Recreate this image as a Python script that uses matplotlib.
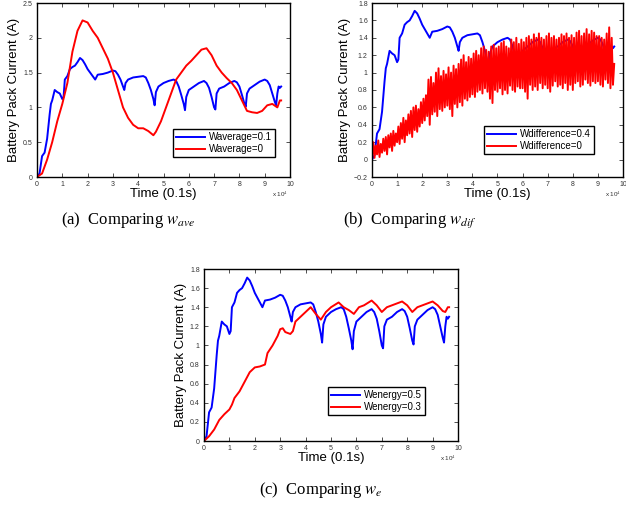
import numpy as np
import matplotlib
matplotlib.use('Agg')
import matplotlib.pyplot as plt

plt.rcParams['font.family'] = ['Liberation Sans', 'DejaVu Sans']
plt.rcParams['mathtext.fontset'] = 'stix'

# time axis in units of 10^4 x 0.1s
t_blue = [0, 0.1, 0.2, 0.3, 0.4, 0.5, 0.55, 0.6, 0.7, 0.8, 0.9, 1.0, 1.05, 1.1, 1.2, 1.3,
          1.4, 1.5, 1.6, 1.7, 1.8, 1.9, 2.0, 2.2, 2.3, 2.4, 2.6, 2.8, 3.0, 3.1, 3.2, 3.3,
          3.4, 3.45, 3.5, 3.6, 3.8, 4.0, 4.2, 4.3, 4.4, 4.5, 4.6, 4.65, 4.7, 4.8, 5.0,
          5.2, 5.4, 5.5, 5.6, 5.7, 5.8, 5.85, 5.9, 6.0, 6.2, 6.4, 6.6, 6.7, 6.8, 6.9,
          7.0, 7.05, 7.1, 7.2, 7.4, 7.6, 7.8, 7.9, 8.0, 8.1, 8.2, 8.25, 8.3, 8.4, 8.6,
          8.8, 9.0, 9.1, 9.2, 9.3, 9.4, 9.45, 9.5, 9.55, 9.6, 9.65]
blue = [0, 0.05, 0.3, 0.35, 0.55, 0.9, 1.05, 1.1, 1.25, 1.22, 1.2, 1.12, 1.15, 1.4, 1.45, 1.55,
        1.58, 1.6, 1.65, 1.71, 1.68, 1.62, 1.55, 1.45, 1.40, 1.47, 1.48, 1.50, 1.53, 1.52, 1.47, 1.40,
        1.30, 1.25, 1.35, 1.40, 1.43, 1.44, 1.45, 1.43, 1.35, 1.25, 1.12, 1.03, 1.22, 1.30, 1.35,
        1.38, 1.40, 1.38, 1.30, 1.18, 1.05, 0.96, 1.15, 1.25, 1.30, 1.35, 1.38, 1.35, 1.28, 1.15,
        1.0, 0.97, 1.20, 1.27, 1.30, 1.35, 1.38, 1.36, 1.30, 1.18, 1.05, 1.01, 1.2, 1.27, 1.32,
        1.37, 1.40, 1.38, 1.32, 1.20, 1.08, 1.03, 1.2, 1.30, 1.28, 1.30]

t_ave = [0, 0.2, 0.4, 0.6, 0.8, 1.0, 1.2, 1.4, 1.6, 1.8, 2.0, 2.2, 2.4, 2.6, 2.8, 3.0, 3.2,
         3.4, 3.6, 3.8, 4.0, 4.2, 4.4, 4.6, 4.7, 4.9, 5.1, 5.3, 5.5, 5.7, 5.9, 6.1, 6.3,
         6.5, 6.7, 6.9, 7.1, 7.3, 7.5, 7.7, 7.9, 8.1, 8.3, 8.5, 8.7, 8.9, 9.1, 9.3, 9.5,
         9.6, 9.65]
red_ave = [0, 0.05, 0.25, 0.5, 0.8, 1.05, 1.35, 1.8, 2.1, 2.25, 2.22, 2.1, 2.0, 1.85, 1.7, 1.5, 1.25,
           1.0, 0.85, 0.75, 0.70, 0.70, 0.66, 0.60, 0.65, 0.8, 1.0, 1.2, 1.4, 1.5, 1.6, 1.67, 1.75,
           1.83, 1.85, 1.75, 1.60, 1.50, 1.42, 1.35, 1.25, 1.10, 0.95, 0.93, 0.92, 0.95, 1.03, 1.05, 1.0,
           1.10, 1.10]

# noisy series sampled every 0.05 (one row per time unit)
red_dif = [0.04, 0.20, 0.02, 0.16, 0.06, 0.22, 0.03, 0.18, 0.08, 0.24, 0.10, 0.26, 0.06, 0.28, 0.14, 0.30, 0.10, 0.33, 0.16, 0.30,
           0.20, 0.38, 0.18, 0.42, 0.24, 0.48, 0.20, 0.45, 0.28, 0.52, 0.30, 0.56, 0.26, 0.60, 0.34, 0.62, 0.32, 0.58, 0.38, 0.66,
           0.42, 0.70, 0.45, 0.74, 0.50, 0.92, 0.40, 0.95, 0.52, 0.88, 0.55, 1.00, 0.50, 1.05, 0.58, 0.96, 0.56, 1.02, 0.60, 0.98,
           0.62, 1.06, 0.58, 1.00, 0.50, 1.08, 0.64, 1.04, 0.60, 1.10, 0.66, 1.15, 0.62, 1.20, 0.70, 1.12, 0.68, 1.18, 0.72, 1.16,
           0.75, 1.22, 0.72, 1.25, 0.78, 1.20, 0.80, 1.28, 0.76, 1.30, 0.82, 1.26, 0.78, 1.24, 0.70, 1.30, 0.65, 1.32, 0.80, 1.28,
           0.78, 1.30, 0.82, 1.34, 0.75, 1.36, 0.80, 1.30, 0.76, 1.28, 0.85, 1.38, 0.80, 1.35, 0.78, 1.40, 0.84, 1.33, 0.82, 1.38,
           0.82, 1.35, 0.78, 1.40, 0.70, 1.42, 0.86, 1.38, 0.80, 1.44, 0.84, 1.40, 0.80, 1.45, 0.88, 1.40, 0.82, 1.38, 0.86, 1.42,
           0.82, 1.45, 0.78, 1.40, 0.85, 1.42, 0.90, 1.38, 0.84, 1.40, 0.86, 1.44, 0.82, 1.42, 0.88, 1.45, 0.80, 1.40, 0.86, 1.43,
           0.80, 1.40, 0.88, 1.46, 0.90, 1.48, 0.84, 1.42, 0.86, 1.45, 0.92, 1.50, 0.88, 1.44, 0.85, 1.48, 0.90, 1.46, 0.88, 1.42,
           0.90, 1.42, 0.86, 1.40, 0.84, 1.38, 0.92, 1.45, 0.88, 1.52, 0.82, 1.40, 0.86, 1.10]
t_dif = [round(0.05 * i, 2) for i in range(len(red_dif))]

t_en = [0, 0.2, 0.4, 0.6, 0.8, 1.0, 1.1, 1.2, 1.4, 1.6, 1.8, 2.0, 2.2, 2.4, 2.5, 2.7, 2.9,
        3.0, 3.1, 3.2, 3.4, 3.5, 3.6, 3.8, 4.0, 4.2, 4.4, 4.6, 4.8, 5.0, 5.3, 5.5, 5.7,
        5.9, 6.1, 6.3, 6.6, 6.8, 7.0, 7.2, 7.5, 7.8, 8.0, 8.2, 8.4, 8.7, 9.0, 9.2, 9.4,
        9.5, 9.6, 9.65]
red_en = [0, 0.05, 0.12, 0.22, 0.28, 0.33, 0.38, 0.45, 0.52, 0.62, 0.72, 0.77, 0.78, 0.80, 0.92, 1.0, 1.1,
          1.17, 1.18, 1.14, 1.12, 1.15, 1.25, 1.30, 1.35, 1.40, 1.33, 1.27, 1.35, 1.40, 1.45, 1.40, 1.37,
          1.33, 1.40, 1.42, 1.47, 1.42, 1.35, 1.40, 1.43, 1.46, 1.42, 1.35, 1.40, 1.43, 1.46, 1.42, 1.36,
          1.35, 1.40, 1.40]

fig = plt.figure(figsize=(6.26, 5.08), dpi=100)

panels = [
    dict(rect=[37/626, 1-177/508, 253/626, 174/508], ylim=(0, 2.5), yticks=np.arange(0, 2.51, 0.5),
         ylab=['0', '0.5', '1', '1.5', '2', '2.5'],
         red=(t_ave, red_ave), names=('Waverage=0.1', 'Waverage=0'), leg=(0.94, 0.115),
         cap=r'(a)  Comparing $w_{ave}$', capx=128/626, capy=1-220/508, ex=0.96),
    dict(rect=[372/626, 1-177/508, 251/626, 174/508], ylim=(-0.2, 1.8), yticks=np.arange(-0.2, 1.81, 0.2),
         ylab=['\u22120.2', '0', '0.2', '0.4', '0.6', '0.8', '1', '1.2', '1.4', '1.6', '1.8'],
         red=(t_dif, red_dif), names=('Wdifference=0.4', 'Wdifference=0'), leg=(0.885, 0.132),
         cap=r'(b)  Comparing $w_{dif}$', capx=410/626, capy=1-220/508, ex=0.96),
    dict(rect=[204/626, 1-441/508, 254/626, 172/508], ylim=(0, 1.8), yticks=np.arange(0, 1.81, 0.2),
         ylab=['0', '0.2', '0.4', '0.6', '0.8', '1', '1.2', '1.4', '1.6', '1.8'],
         red=(t_en, red_en), names=('Wenergy=0.5', 'Wenergy=0.3'), leg=(0.87, 0.151),
         cap=r'(c)  Comparing $w_{e}$', capx=321/626, capy=1-490/508, ex=0.96),
]

for p in panels:
    ax = fig.add_axes(p['rect'])
    ax.plot(t_blue, blue, color='#0000ff', lw=1.4, label=p['names'][0])
    ax.plot(p['red'][0], p['red'][1], color='#ff0000', lw=1.4, label=p['names'][1])
    ax.set_xlim(0, 10)
    ax.set_ylim(*p['ylim'])
    ax.set_xticks(range(11))
    ax.set_yticks(p['yticks'])
    ax.set_yticklabels(p['ylab'])
    ax.tick_params(direction='in', top=True, right=True, labelsize=5, length=3,
                   width=0.6, colors='#333333', pad=3)
    for s in ax.spines.values():
        s.set_linewidth(1.0)
    ax.set_xlabel('Time (0.1s)', fontsize=9.5, labelpad=0)
    ax.set_ylabel('Battery Pack Current (A)', fontsize=9.5, labelpad=2)
    ax.text(p['ex'], -0.1, r'x 10$^4$', transform=ax.transAxes, fontsize=4.5,
            color='#333333', ha='center', va='center')
    leg = ax.legend(loc='lower right', bbox_to_anchor=p['leg'], fontsize=7,
                    fancybox=False, edgecolor='black', framealpha=1,
                    handlelength=3.0, borderpad=0.3, labelspacing=0.2, handletextpad=0.4,
                    borderaxespad=0)
    leg.get_frame().set_linewidth(1.0)
    fig.text(p['capx'], p['capy'], p['cap'], fontsize=12, family='Liberation Serif',
             ha='center', va='center')

fig.savefig('out.png', dpi=100)
